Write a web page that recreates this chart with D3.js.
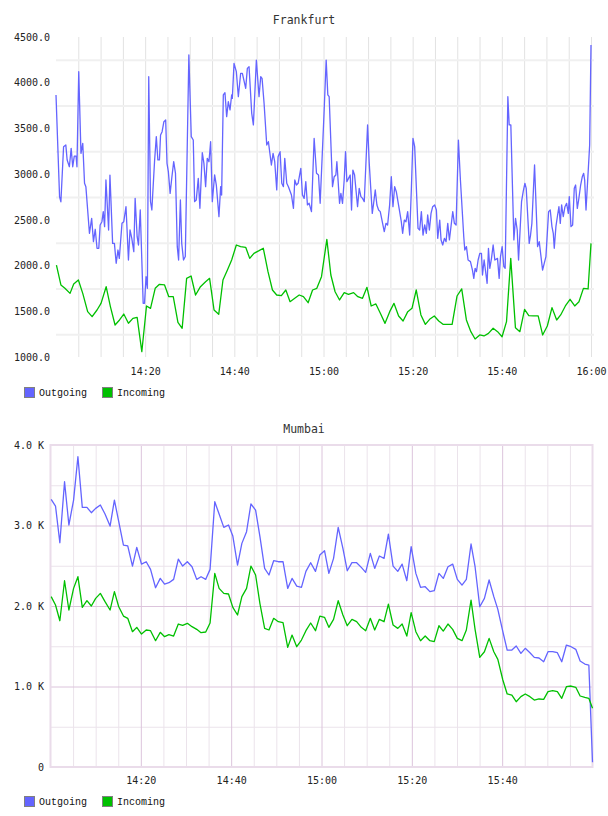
<!DOCTYPE html>
<html>
<head>
<meta charset="utf-8">
<script src="https://cdn.jsdelivr.net/npm/d3@7"></script>
<style>
body { margin: 0; background: #fff; }
svg { display: block; }
.tick text { font-family: "DejaVu Sans Mono", monospace; font-size: 10px; fill: #222; }
</style>
</head>
<body>
<div id="chart"></div>
<script>
// minutes after 14:00 for each sample, values in packets/s
var fraOutT = [0.0,0.8,1.1,1.7,2.2,2.5,3.0,3.4,3.75,4.1,4.5,4.7,5.1,5.6,6.0,6.4,6.7,7.5,8.0,8.4,8.8,9.2,9.6,9.9,10.3,10.6,10.9,11.2,11.8,12.1,12.7,13.1,13.5,13.9,14.2,14.8,15.2,15.7,16.25,16.6,17.0,17.45,17.75,18.2,18.5,18.9,19.55,19.85,20.2,20.5,20.8,21.2,21.5,22.1,22.5,22.85,23.2,23.45,23.8,24.2,24.6,24.9,25.2,25.6,26.0,26.4,26.8,27.2,27.5,27.9,28.2,28.6,29.0,29.8,30.34,30.79,31.09,31.46,31.91,32.28,32.81,33.18,33.56,33.93,34.31,34.68,35.06,35.58,35.96,36.55,36.93,37.15,37.53,37.9,38.28,38.65,39.03,39.4,39.55,39.93,40.45,40.9,41.42,41.8,42.55,42.92,43.3,43.9,44.27,44.94,45.54,45.92,46.22,46.67,47.27,47.64,48.31,48.69,49.06,49.51,49.81,50.26,50.64,51.01,51.31,51.76,52.13,52.81,53.26,53.56,53.93,54.31,54.91,55.28,55.66,56.03,56.4,56.78,57.3,57.9,58.43,58.88,59.25,60.15,60.6,60.97,61.27,62.02,62.4,62.77,63.0,63.6,63.9,64.27,64.64,64.94,65.24,65.62,65.99,66.29,66.59,66.97,67.64,68.01,68.39,68.76,69.14,69.89,70.26,70.94,71.24,71.61,71.98,72.36,72.73,73.63,74.01,74.38,74.83,75.21,75.58,75.96,76.33,77.08,77.45,77.75,78.13,78.5,78.88,79.33,79.7,80.07,80.45,81.2,81.57,81.95,82.32,82.7,83.07,83.37,83.75,84.12,84.49,84.94,85.32,85.62,86.07,86.37,86.74,87.12,87.49,87.87,88.24,88.99,89.36,89.74,90.26,90.71,91.46,91.69,92.06,92.43,92.96,93.41,93.71,94.01,94.31,94.68,95.06,95.43,95.66,96.03,96.7,97.0,97.3,97.68,98.05,98.43,99.03,99.4,99.7,100.07,100.45,100.75,101.35,101.65,102.02,102.7,103.07,103.45,103.75,104.42,104.79,105.17,105.47,106.14,106.44,106.74,107.34,108.02,108.39,109.14,109.51,109.89,110.49,110.86,111.24,111.54,111.76,112.13,112.51,112.81,113.11,113.41,113.78,114.16,114.53,114.91,115.13,115.51,115.88,116.25,116.55,116.93,117.23,117.68,118.05,118.35,118.58,118.88,119.7,120];
var fraOut = [3866,2753,2698,3300,3320,3155,3081,3282,3081,3198,3198,3081,4120,3228,3337,2900,2863,2353,2517,2262,2397,2189,2189,2444,2480,2590,2425,2936,2389,2990,2243,2243,2025,2170,2079,2462,2480,2644,2061,2389,2298,2152,2736,2316,2225,2608,1587,1587,1878,1751,4066,2698,2608,3137,3410,3155,3155,3428,3464,3574,3592,3118,3027,2790,2972,3137,3009,2207,2061,2717,2243,2061,2100,4303,3410,3373,2699,2717,2954,2626,3235,3118,2863,3173,3136,3355,2699,2991,2881,2535,2863,2772,3866,3891,3629,3793,3702,3866,3829,4212,4121,3847,4103,4103,3939,4157,4176,3665,3538,4248,3847,4066,4048,3775,3319,3355,3100,3228,3136,2827,3191,3246,2900,2863,3173,2900,2863,2772,2626,2936,2881,2900,3064,2772,2735,2918,2663,2681,2590,3392,3009,2991,2681,3702,4248,3866,3847,2863,2972,2991,3136,2681,2790,2681,2936,3246,2918,2954,2991,2608,3045,2991,2644,2845,2754,2735,2699,3538,3118,2571,2681,2827,2663,2608,2590,2371,2462,2444,2663,2972,2644,2863,2808,2590,2480,2353,2498,2480,2590,2334,2827,3392,3301,2407,2389,2590,2334,2444,2353,2553,2389,2571,2644,2663,2608,2298,2498,2280,2225,2298,2262,2462,2280,2590,2462,2444,3373,2936,2316,2170,2207,2061,2043,1951,1860,1970,1933,2061,2134,2134,1897,2061,1806,2189,1970,2079,2225,2061,2079,1860,2097,2207,1988,1970,3847,3538,3538,2280,2517,2389,2061,2699,2808,2900,2845,2243,2334,2462,3100,2207,2262,1951,2024,2097,2590,2608,2426,2353,2189,2426,2553,2644,2462,2663,2535,2644,2681,2571,2754,2426,2444,2845,2881,2626,2717,2881,2972,3009,2936,2608,3319,4413];

var fraInT = [0.1,1.1,2.0,3.15,3.97,5.02,6.0,7.1,8.1,9.2,10.1,11.25,12.2,13.25,14.25,15.2,16.25,17.25,18.2,19.25,20.3,21.2,22.25,23.2,24.35,25.3,26.3,27.35,28.3,29.3,30.3,31.3,32.4,33.55,34.45,35.45,36.5,37.45,38.45,39.4,40.45,41.4,42.55,43.45,44.4,45.55,46.5,47.55,48.55,49.5,50.55,51.55,52.5,53.55,54.55,55.5,56.55,57.55,58.5,59.55,60.75,61.65,62.6,63.6,64.65,65.6,66.75,67.7,68.75,69.75,70.7,71.75,72.75,73.8,74.85,75.8,76.85,77.85,78.9,79.85,80.8,81.85,82.85,83.8,84.85,85.85,86.8,87.85,88.85,89.95,91.0,92.05,93.05,94.0,95.05,96.0,97.0,98.05,99.05,100.05,101.05,102.0,103.05,104.05,105.1,106.05,107.1,108.15,109.15,110.2,111.25,112.3,113.2,114.25,115.3,116.35,117.3,118.3,119.35,120];
var fraIn = [2006,1788,1751,1696,1798,1842,1696,1496,1441,1514,1587,1769,1551,1350,1405,1470,1369,1423,1434,1058,1558,1532,1751,1795,1788,1660,1660,1379,1314,1860,1886,1678,1769,1824,1860,1514,1467,1842,1952,2061,2225,2207,2200,2079,2134,2163,2189,1933,1733,1678,1671,1733,1605,1642,1678,1660,1594,1733,1751,1879,2287,1897,1714,1624,1704,1686,1704,1660,1642,1762,1558,1580,1478,1368,1496,1587,1449,1394,1496,1532,1733,1460,1357,1412,1449,1394,1357,1357,1357,1667,1745,1405,1277,1197,1241,1230,1259,1314,1277,1222,1387,2079,1321,1277,1521,1452,1449,1449,1241,1339,1540,1405,1460,1558,1631,1558,1605,1751,1744,2243];

var mumT = [0.15,1.11,2.07,3.11,4.07,5.11,6.07,7.04,8.07,9.04,10.0,11.04,12.07,13.19,14.15,15.11,16.15,17.1,18.15,19.1,20.15,21.19,22.15,23.26,24.3,25.26,26.22,27.26,28.3,29.26,30.3,31.33,32.37,33.33,34.37,35.33,36.37,37.33,38.37,39.41,40.37,41.41,42.37,43.41,44.37,45.41,46.37,47.41,48.37,49.41,50.44,51.48,52.52,53.48,54.52,55.56,56.55,57.6,58.67,59.63,60.67,61.63,62.67,63.7,64.74,65.7,66.74,67.78,68.81,69.78,70.81,71.78,72.81,73.85,74.81,75.85,76.89,77.85,78.89,79.85,80.89,81.93,82.96,84.0,84.96,86.0,86.96,88.0,89.04,90.07,91.11,92.07,93.11,94.0,95.04,96.07,97.11,98.15,99.04,100.15,101.11,102.15,103.11,104.15,105.11,106.15,107.11,108.15,109.19,110.15,111.19,112.22,113.19,114.22,115.26,116.3,117.26,118.3,119.19,120];
var mumOut = [3324,3242,2786,3544,3006,3316,3854,3225,3225,3159,3213,3254,3142,2993,3316,3047,2757,2747,2496,2728,2521,2550,2455,2227,2343,2273,2289,2331,2583,2496,2550,2488,2331,2364,2331,2455,3295,3142,2977,3006,2869,2509,2778,2923,3267,3192,2861,2467,2385,2563,2550,2550,2219,2343,2248,2232,2430,2538,2430,2633,2687,2405,2592,2977,2716,2438,2538,2538,2480,2418,2654,2467,2621,2592,2894,2496,2430,2521,2314,2737,2405,2232,2240,2178,2190,2405,2343,2488,2521,2331,2260,2331,2770,2488,1991,2095,2323,2116,1958,1681,1453,1453,1503,1412,1474,1420,1362,1354,1308,1432,1432,1420,1308,1515,1494,1462,1317,1279,1267,60];
var mumIn = [2116,2012,1817,2314,1950,2219,2364,1983,2066,2000,2095,2157,2054,1950,2178,1991,1875,1847,1681,1735,1652,1702,1693,1569,1673,1619,1644,1627,1776,1760,1785,1743,1710,1669,1677,1789,2405,2219,2157,2149,1983,1888,2116,2219,2496,2385,2030,1722,1702,1847,1805,1793,1486,1639,1494,1577,1693,1789,1693,1875,1859,1735,1834,2066,1888,1755,1834,1805,1735,1693,1847,1702,1834,1805,2024,1764,1722,1776,1627,1917,1681,1569,1627,1569,1557,1755,1689,1776,1710,1598,1569,1702,2074,1710,1362,1432,1598,1432,1337,1081,907,894,811,874,907,874,832,845,840,936,948,936,853,998,1006,990,882,865,853,729];

var seriesNames = ["Outgoing", "Incoming"];
var seriesColors = ["#6464ff", "#00c000"];
var fraTicks = ["14:20", "14:40", "15:00", "15:20", "15:40", "16:00"];
var mumTicks = ["14:20", "14:40", "15:00", "15:20", "15:40"];
var fraYTicks = [1000, 1500, 2000, 2500, 3000, 3500, 4000, 4500];
var mumYTicks = [0, 1000, 2000, 3000, 4000];

var t0 = new Date(2020, 0, 1, 14, 0);
var t1 = new Date(2020, 0, 1, 16, 0);
var parseHM = d3.timeParse("%H:%M");
function atMinute(m) { return new Date(t0.getTime() + m * 60000); }
function hm(s) { var d = parseHM(s); return new Date(2020, 0, 1, d.getHours(), d.getMinutes()); }
function zip(ts, vs) { return ts.map(function(t, i) { return { t: atMinute(t), v: vs[i] }; }); }

var svg = d3.select("#chart").append("svg").attr("width", 608).attr("height", 816);

function drawLegend(y) {
  var lg = svg.append("g").attr("transform", "translate(0," + y + ")");
  seriesNames.forEach(function(name, i) {
    var x0 = i === 0 ? 24 : 102;
    lg.append("rect").attr("x", x0 + 0.5).attr("y", 0.5).attr("width", 10).attr("height", 10)
      .style("fill", seriesColors[i]).style("stroke", "#808080");
    lg.append("text").attr("x", x0 + 15).attr("y", 9)
      .style("font-family", "'Liberation Mono', monospace").style("font-size", "10px")
      .style("fill", "#111").text(name);
  });
}

function drawTitle(txt, y) {
  svg.append("text").attr("x", 304).attr("y", y).attr("text-anchor", "middle")
    .style("font-family", "'DejaVu Sans Mono', monospace").style("font-size", "11.5px")
    .style("fill", "#333").text(txt);
}

function drawLines(g, x, y, sets) {
  var line = d3.line().x(function(d) { return x(d.t); }).y(function(d) { return y(d.v); });
  sets.forEach(function(s, i) {
    g.append("path").datum(s).attr("d", line)
      .style("fill", "none").style("stroke", seriesColors[i]).style("stroke-width", 1.3)
      .style("stroke-linejoin", "round");
  });
}

// ---- Frankfurt ----
function plot_frankfurt() {
  var x = d3.scaleTime().domain([t0, t1]).range([56, 591]);
  var y = d3.scaleLinear().domain([1000, 4500]).range([357, 37]);
  var g = svg.append("g");

  g.append("g").attr("transform", "translate(0,357)")
    .call(d3.axisBottom(x).tickValues(d3.timeMinute.every(5).range(atMinute(5), atMinute(121))).tickSize(-320).tickFormat(""))
    .call(function(a) { a.select(".domain").remove(); a.selectAll(".tick line").attr("stroke", "#e2e2e2"); });

  g.append("g").attr("transform", "translate(56,0)")
    .call(d3.axisLeft(y).tickValues(d3.range(1250, 4500, 500)).tickSize(-538).tickFormat(""))
    .call(function(a) { a.select(".domain").remove(); a.selectAll(".tick line").attr("stroke", "#f0f0f0").attr("stroke-width", 2); });

  drawLines(g, x, y, [zip(fraOutT, fraOut), zip(fraInT, fraIn)]);

  g.append("g").attr("transform", "translate(51,0)")
    .call(d3.axisLeft(y).tickValues(fraYTicks).tickSize(0).tickPadding(1).tickFormat(d3.format(".1f")))
    .call(function(a) { a.select(".domain").remove(); });

  g.append("g").attr("transform", "translate(0,366)")
    .call(d3.axisBottom(x).tickValues(fraTicks.map(hm)).tickSize(0).tickPadding(2).tickFormat(d3.timeFormat("%H:%M")))
    .call(function(a) { a.select(".domain").remove(); });

  drawTitle("Frankfurt", 24);
  drawLegend(387);
}

// ---- Mumbai ----
function plot_mumbai() {
  var x = d3.scaleTime().domain([t0, t1]).range([50.5, 592.5]);
  var y = d3.scaleLinear().domain([0, 4000]).range([767, 445]);
  var g = svg.append("g");

  var minorT = d3.timeMinute.every(5).range(atMinute(5), atMinute(120)).filter(function(d) { return d.getMinutes() % 20 !== 0; });
  var majorT = mumTicks.map(hm);

  g.append("g").attr("transform", "translate(0,767)")
    .call(d3.axisBottom(x).tickValues(minorT).tickSize(-322).tickFormat(""))
    .call(function(a) { a.select(".domain").remove(); a.selectAll(".tick line").attr("stroke", "#ebe3eb"); });
  g.append("g").attr("transform", "translate(50.5,0)")
    .call(d3.axisLeft(y).tickValues(d3.range(500, 4000, 1000)).tickSize(-542).tickFormat(""))
    .call(function(a) { a.select(".domain").remove(); a.selectAll(".tick line").attr("stroke", "#ebe3eb"); });
  g.append("g").attr("transform", "translate(0,767)")
    .call(d3.axisBottom(x).tickValues(majorT).tickSize(-322).tickFormat(""))
    .call(function(a) { a.select(".domain").remove(); a.selectAll(".tick line").attr("stroke", "#dcc4dc"); });
  g.append("g").attr("transform", "translate(50.5,0)")
    .call(d3.axisLeft(y).tickValues([1000, 2000, 3000]).tickSize(-542).tickFormat(""))
    .call(function(a) { a.select(".domain").remove(); a.selectAll(".tick line").attr("stroke", "#dcc4dc"); });

  g.append("rect").attr("x", 50.5).attr("y", 445).attr("width", 542).attr("height", 322)
    .style("fill", "none").style("stroke", "#eadcea").style("stroke-width", 2);

  drawLines(g, x, y, [zip(mumT, mumOut), zip(mumT, mumIn)]);

  g.append("g").attr("transform", "translate(45,0)")
    .call(d3.axisLeft(y).tickValues(mumYTicks).tickSize(0).tickPadding(1)
      .tickFormat(function(d) { return d === 0 ? "0" : d3.format(".1f")(d / 1000) + " K"; }))
    .call(function(a) { a.select(".domain").remove(); });

  g.append("g").attr("transform", "translate(0,775)")
    .call(d3.axisBottom(x).tickValues(majorT).tickSize(0).tickPadding(2).tickFormat(d3.timeFormat("%H:%M")))
    .call(function(a) { a.select(".domain").remove(); });

  drawTitle("Mumbai", 433);
  drawLegend(796);
}

plot_frankfurt();
plot_mumbai();
</script>
</body>
</html>
